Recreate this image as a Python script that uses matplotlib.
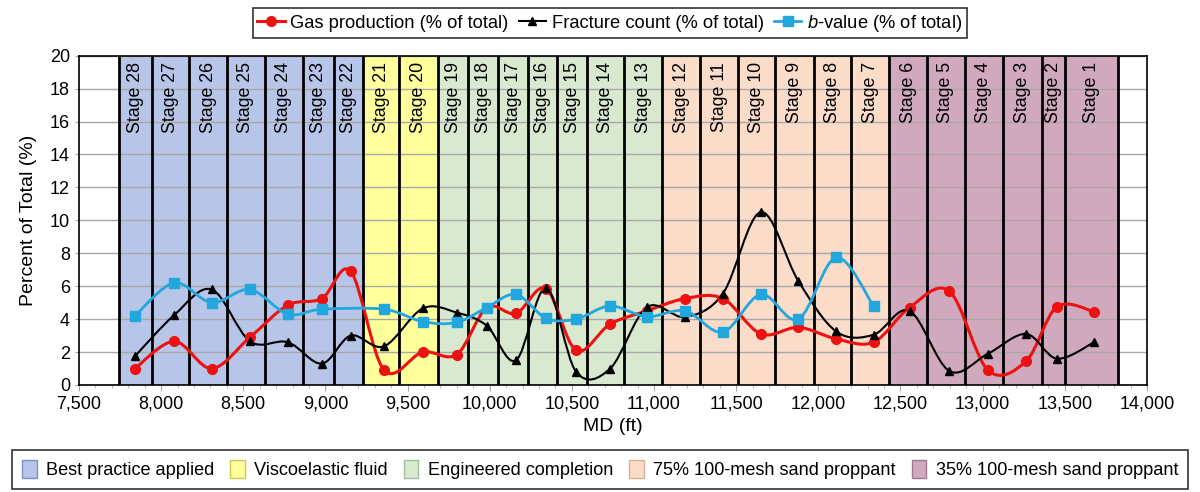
import numpy as np
import matplotlib
matplotlib.use('Agg')
import matplotlib.pyplot as plt
from matplotlib.path import Path
from matplotlib.patches import PathPatch, Patch
from matplotlib.lines import Line2D
from matplotlib.ticker import MultipleLocator, FuncFormatter

plt.rcParams['font.family'] = ['Liberation Sans', 'DejaVu Sans']
plt.rcParams['mathtext.fontset'] = 'custom'
plt.rcParams['mathtext.rm'] = 'Liberation Sans'
plt.rcParams['mathtext.it'] = 'Liberation Sans:italic'

# stages run 28 (heel side, left) to 1 (toe, right)
stages = list(range(28, 0, -1))
md = [7841, 8080, 8308, 8541, 8771, 8978, 9154, 9357, 9592, 9799,
      9982, 10160, 10343, 10526, 10733, 10956, 11189, 11419, 11650, 11879,
      12109, 12336, 12555, 12797, 13032, 13264, 13452, 13679]
gas = [1.0, 2.65, 1.0, 2.9, 4.85, 5.25, 6.9, 0.9, 2.0, 1.85,
       4.7, 4.35, 5.85, 2.1, 3.7, 4.5, 5.25, 5.25, 3.1, 3.5,
       2.8, 2.6, 4.7, 5.7, 0.9, 1.45, 4.75, 4.45]
fracs = [1.75, 4.25, 5.8, 2.65, 2.6, 1.3, 3.0, 2.35, 4.65, 4.4,
         3.6, 1.5, 5.9, 0.8, 1.0, 4.72, 4.13, 5.55, 10.5, 6.3,
         3.25, 3.05, 4.5, 0.85, 1.9, 3.1, 1.6, 2.6]
bval = [4.2, 6.2, 5.0, 5.8, 4.3, 4.6, np.nan, 4.6, 3.85, 3.8,
        4.7, 5.5, 4.05, 4.0, 4.8, 4.15, 4.5, 3.22, 5.5, 4.0,
        7.75, 4.8, np.nan, np.nan, np.nan, np.nan, np.nan, np.nan]

# stage boundaries (ft)
boundaries = [7745, 7943, 8172, 8399, 8631, 8862, 9054, 9231, 9448, 9687,
              9870, 10053, 10235, 10412, 10595, 10820, 11051, 11281, 11514, 11737,
              11972, 12200, 12433, 12661, 12892, 13124, 13361, 13503, 13824]

treatments = ['Best practice applied', 'Viscoelastic fluid', 'Engineered completion',
              '75% 100-mesh sand proppant', '35% 100-mesh sand proppant']
treat_counts = [7, 2, 7, 6, 6]
treat_colors = ['#b6c5e8', '#ffff9c', '#d8e9d0', '#fbdcc9', '#d1a9be']
treat_edges = ['#7d93c6', '#c9c85a', '#a3bca0', '#d8ae94', '#9c7a92']


def smooth_path(x, y):
    # Excel-like smoothed line: bezier segments through the points
    pts = np.column_stack([np.asarray(x, float), np.asarray(y, float)])
    pts = pts[~np.isnan(pts[:, 1])]
    n = len(pts)
    verts = [pts[0]]
    codes = [Path.MOVETO]
    for i in range(n - 1):
        p0 = pts[max(i - 1, 0)]
        p1 = pts[i]
        p2 = pts[i + 1]
        p3 = pts[min(i + 2, n - 1)]
        verts += [p1 + (p2 - p0) / 6, p2 - (p3 - p1) / 6, p2]
        codes += [Path.CURVE4] * 3
    return Path(verts, codes)


fig = plt.figure(figsize=(12, 4.92), dpi=100)
ax = fig.add_axes([0.0658, 0.2175, 0.89, 0.6693])

# treatment shading
k = 0
for n, c in zip(treat_counts, treat_colors):
    ax.axvspan(boundaries[k], boundaries[k + n], color=c, lw=0, zorder=0.2)
    k += n

for b in boundaries:
    ax.axvline(b, color='black', lw=2, zorder=1)

for i, s in enumerate(stages):
    xc = (boundaries[i] + boundaries[i + 1]) / 2
    ax.text(xc, 19.6, 'Stage %d' % s, rotation=90, ha='center', va='top',
            fontsize=12.8, zorder=3)

series = [
    (gas, '#ee1111', 'o', 7, 2.2),
    (fracs, 'black', '^', 6, 1.5),
    (bval, '#22a6de', 's', 6.5, 2.0),
]
for vals, col, mk, ms, lw in series:
    ax.add_patch(PathPatch(smooth_path(md, vals), fill=False, edgecolor=col,
                           lw=lw, zorder=4))
    ax.plot(md, vals, linestyle='none', marker=mk, color=col, markersize=ms,
            zorder=5)

ax.set_xlim(7500, 14000)
ax.set_ylim(0, 20)
ax.xaxis.set_major_locator(MultipleLocator(500))
ax.xaxis.set_minor_locator(MultipleLocator(100))
ax.yaxis.set_major_locator(MultipleLocator(2))
ax.xaxis.set_major_formatter(FuncFormatter(lambda v, p: '{:,.0f}'.format(v)))
ax.tick_params(axis='x', which='both', direction='out', color='#aaaaaa',
               labelsize=13, length=4)
ax.tick_params(axis='x', which='minor', length=2)
ax.tick_params(axis='y', direction='out', color='#aaaaaa', labelsize=13, length=3)
ax.set_axisbelow(True)
ax.grid(axis='y', color='#a8a8a8', lw=1)
for sp in ax.spines.values():
    sp.set_color('black')
    sp.set_linewidth(1.2)

ax.set_xlabel('MD (ft)', fontsize=14, labelpad=4)
ax.set_ylabel('Percent of Total (%)', fontsize=14, labelpad=9)

# legends
line_handles = [
    Line2D([], [], color='#ee1111', marker='o', lw=2.2, ms=7),
    Line2D([], [], color='black', marker='^', lw=1.5, ms=6),
    Line2D([], [], color='#22a6de', marker='s', lw=2.0, ms=6.5),
]
line_labels = ['Gas production (% of total)', 'Fracture count (% of total)',
               r'$\mathit{b}$-value (% of total)']
leg1 = fig.legend(line_handles, line_labels, loc='center', bbox_to_anchor=(0.508, 0.953),
                  ncol=3, fontsize=13.2, frameon=True, fancybox=False,
                  edgecolor='black', borderpad=0.25, handlelength=1.5,
                  handletextpad=0.3, columnspacing=0.55)
leg1.get_frame().set_linewidth(1.2)

patch_handles = [Patch(facecolor=c, edgecolor=e, lw=1) for c, e in zip(treat_colors, treat_edges)]
leg2 = fig.legend(patch_handles, treatments, loc='center', bbox_to_anchor=(0.5, 0.045),
                  ncol=5, fontsize=13.1, frameon=True, fancybox=False,
                  edgecolor='black', borderpad=0.55, handlelength=0.8,
                  handleheight=1.1, handletextpad=0.5, columnspacing=0.9)
leg2.get_frame().set_linewidth(1.2)

fig.savefig('out.png', dpi=100)
